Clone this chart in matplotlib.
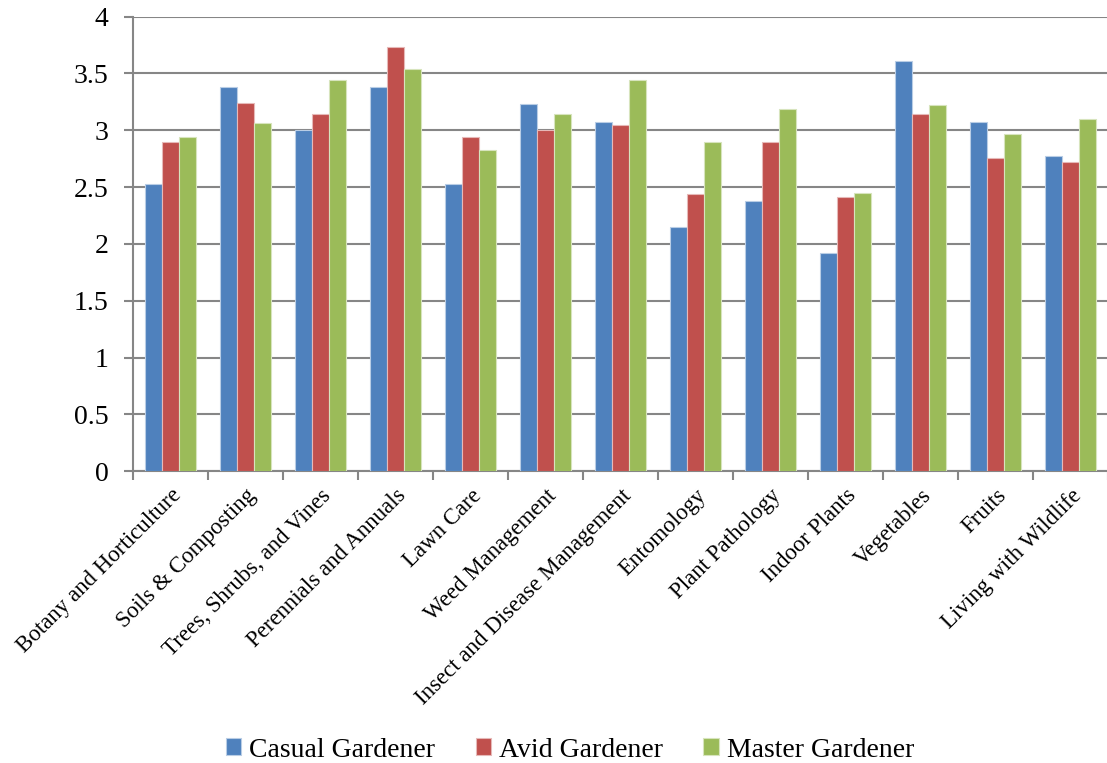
import matplotlib
matplotlib.use("Agg")
import matplotlib.pyplot as plt
import numpy as np

categories = ["Botany and Horticulture", "Soils & Composting", "Trees, Shrubs, and Vines",
              "Perennials and Annuals", "Lawn Care", "Weed Management",
              "Insect and Disease Management", "Entomology", "Plant Pathology",
              "Indoor Plants", "Vegetables", "Fruits", "Living with Wildlife"]
casual = [2.53, 3.38, 3.00, 3.38, 2.53, 3.23, 3.07, 2.15, 2.38, 1.92, 3.61, 3.07, 2.77]
avid = [2.90, 3.24, 3.14, 3.73, 2.94, 3.00, 3.05, 2.44, 2.90, 2.41, 3.14, 2.76, 2.72]
master = [2.94, 3.06, 3.44, 3.54, 2.83, 3.14, 3.44, 2.90, 3.19, 2.45, 3.22, 2.97, 3.10]
series_names = ["Casual Gardener", "Avid Gardener", "Master Gardener"]
yticks = [0, 0.5, 1, 1.5, 2, 2.5, 3, 3.5, 4]
ytick_labels = ["0", "0.5", "1", "1.5", "2", "2.5", "3", "3.5", "4"]

colors = ["#4F81BD", "#C0504D", "#9BBB59"]
edges = ["#B9CDE5", "#E6B9B8", "#D7E4BD"]

plt.rcParams['font.family'] = ['Liberation Serif', 'DejaVu Serif']

fig = plt.figure(figsize=(11.07, 7.63), dpi=100)
ax = fig.add_axes([133/1107, 1 - 471.1/763, (1108 - 133)/1107, (471.1 - 16.7)/763])

x = np.arange(len(categories))
w = 0.223
for i, (vals, c, e, name) in enumerate(zip([casual, avid, master], colors, edges, series_names)):
    ax.bar(x + (i - 1) * w, vals, width=w, color=c, edgecolor=e, linewidth=0.8,
           label=name, zorder=3)

ax.set_xlim(-0.5, len(categories) - 0.5)
ax.set_ylim(0, 4)
ax.set_yticks(yticks)
ax.set_yticklabels(ytick_labels, fontsize=20)
ax.yaxis.grid(True, color="#868686", linewidth=1.5, zorder=0)
ax.set_axisbelow(True)

ax.set_xticks(x)
ax.set_xticklabels(categories, rotation=45, ha='right', rotation_mode='anchor', fontsize=16.5)
ax.tick_params(axis='x', which='major', length=0, pad=10)
ax.set_xticks(np.arange(-0.5, len(categories)), minor=True)
ax.tick_params(axis='x', which='minor', length=6.5, width=1.5, color="#868686", direction='out')
ax.tick_params(axis='y', length=6.5, width=1.5, color="#868686", direction='out', pad=11)

for s in ['top', 'right']:
    ax.spines[s].set_visible(False)
for s in ['left', 'bottom']:
    ax.spines[s].set_color("#868686")
    ax.spines[s].set_linewidth(1.5)

fig.legend(loc='center', bbox_to_anchor=(570/1107, 0.017), ncol=3, frameon=False,
           fontsize=20, handlelength=0.55, handleheight=0.55, handletextpad=0.3,
           columnspacing=1.45)

fig.savefig("out.png", dpi=100)
